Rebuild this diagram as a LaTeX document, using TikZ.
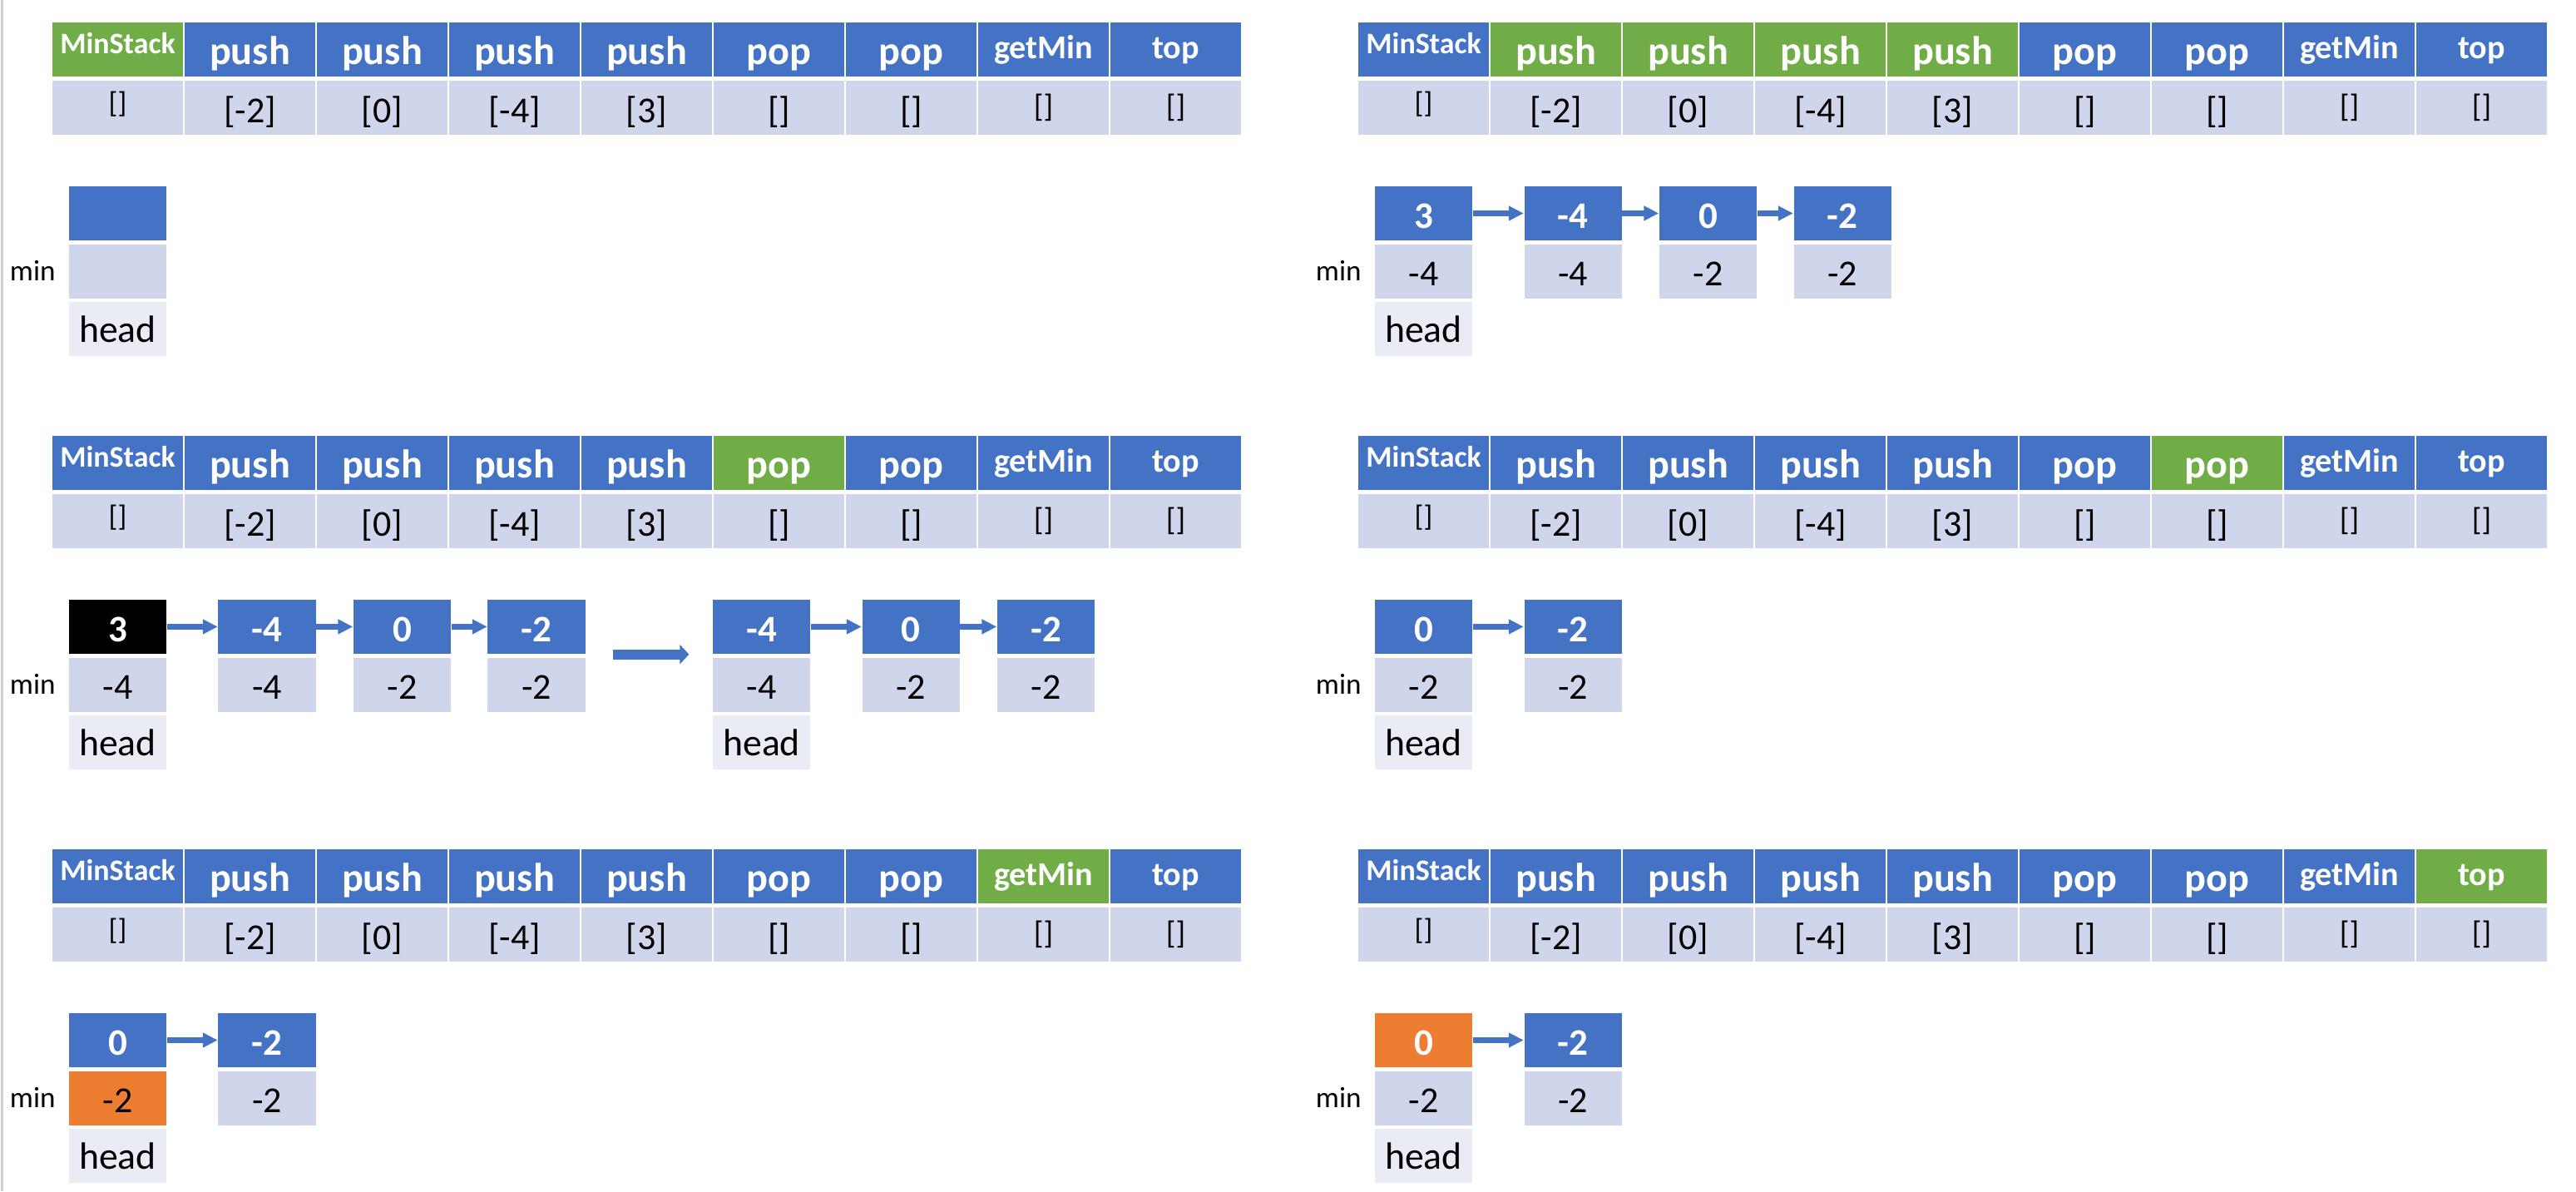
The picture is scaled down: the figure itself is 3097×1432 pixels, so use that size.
\documentclass[tikz,border=0pt]{standalone}
\usepackage{fontspec}
\setmainfont{Carlito}
\usetikzlibrary{positioning,arrows.meta}
\definecolor{opblue}{RGB}{68,114,196}
\definecolor{opgreen}{RGB}{112,173,71}
\definecolor{oporange}{RGB}{237,125,49}
\definecolor{rowblue}{RGB}{207,213,234}
\definecolor{headgray}{RGB}{233,235,245}
\definecolor{edgegray}{RGB}{208,208,208}

\begin{document}
\begin{tikzpicture}[x=0.01cm, y=-0.01cm]
    \tikzstyle{cell} = [rectangle, inner sep=0pt, minimum width=1.57cm, minimum height=0.65cm]
    \tikzstyle{op} = [cell, text=white, font=\fontsize{13.7}{16}\selectfont\bfseries, text height=0.50cm, text depth=0.15cm]
    \tikzstyle{opsm} = [op, font=\fontsize{11.4}{14}\selectfont\bfseries, text height=0.43cm, text depth=0.22cm]
    \tikzstyle{optag} = [op, font=\fontsize{10.2}{12}\selectfont\bfseries, text height=0.37cm, text depth=0.28cm]
    \tikzstyle{arg} = [cell, fill=rowblue, font=\fontsize{12.5}{15}\selectfont, text height=0.51cm, text depth=0.14cm]
    \tikzstyle{argmd} = [arg, font=\fontsize{10.8}{13}\selectfont, text height=0.44cm, text depth=0.21cm]
    \tikzstyle{argsm} = [arg, font=\fontsize{10}{12}\selectfont, text height=0.39cm, text depth=0.26cm]
    \tikzstyle{val} = [cell, minimum width=1.17cm, fill=opblue, text=white, font=\fontsize{12.8}{15}\selectfont\bfseries, text height=0.51cm, text depth=0.14cm]
    \tikzstyle{mn} = [cell, minimum width=1.17cm, fill=rowblue, font=\fontsize{12.5}{15}\selectfont, text height=0.49cm, text depth=0.16cm]
    \tikzstyle{hd} = [mn, fill=headgray, font=\fontsize{13}{15}\selectfont]
    \tikzstyle{lbl} = [inner sep=0pt, minimum height=0.65cm, font=\fontsize{10}{12}\selectfont, text height=0.43cm, text depth=0.22cm]
    \tikzstyle{link} = [draw=opblue, line width=0.07cm, -{Triangle[length=0.18cm, width=0.17cm]}]
    \tikzstyle{jump} = [draw=opblue, line width=0.12cm, -{Triangle[length=0.11cm, width=0.23cm]}, shorten <=0.33cm, shorten >=0.28cm]

    \useasboundingbox (0,0) rectangle (3097,1432);
    \draw [edgegray, line width=0.02cm] (2.5,0) -- (2.5,1432);

    % Operation tables (green = current step)
    \foreach \pn/\tx/\ty/\hfrom/\hto in {a/62/27/1/1, b/1632/27/2/5, c/62/524/6/6, d/1632/524/7/7, e/62/1021/8/8, f/1632/1021/9/9} {
        \foreach \i/\op/\arg/\os/\as in {1/MinStack/{[]}/optag/argsm, 2/push/{[-2]}/op/arg, 3/push/{[0]}/op/arg, 4/push/{[-4]}/op/arg, 5/push/{[3]}/op/arg, 6/pop/{[]}/op/arg, 7/pop/{[]}/op/arg, 8/getMin/{[]}/opsm/argmd, 9/top/{[]}/opsm/argmd} {
            \ifnum\i<\hfrom\relax \def\cc{opblue}\else\ifnum\i>\hto\relax \def\cc{opblue}\else \def\cc{opgreen}\fi\fi
            \node [\os, fill=\cc] (\pn op\i) at ({\tx+\i*159-79.5}, {\ty+32.5}) {\op};
            \node [\as, below=0.035cm of \pn op\i] (\pn arg\i) {\arg};
        }
    }

    % MinStack(): empty head
    \node [val, below=0.605cm of aarg1] (a1) {};
    \node [mn, below=0.04cm of a1] (a1m) {};
    \node [hd, below=0.02cm of a1m] (ahead) {head};
    \node [lbl, left=0.15cm of a1m] (amin) {min};

    % push -2, 0, -4, 3
    \node [val, below=0.605cm of barg1] (b1) {3};
    \node [val, right=0.61cm of b1] (b2) {-4};
    \node [val, right=0.44cm of b2] (b3) {0};
    \node [val, right=0.43cm of b3] (b4) {-2};
    \foreach \k/\v in {1/-4, 2/-4, 3/-2, 4/-2}
        \node [mn, below=0.04cm of b\k] (b\k m) {\v};
    \node [hd, below=0.02cm of b1m] (bhead) {head};
    \node [lbl, left=0.15cm of b1m] (bmin) {min};
    \foreach \k/\l in {1/2, 2/3, 3/4}
        \draw [link] (b\k) -- (b\l);

    % pop: 3 leaves the list
    \node [val, fill=black, below=0.605cm of carg1] (c1) {3};
    \node [val, right=0.61cm of c1] (c2) {-4};
    \node [val, right=0.44cm of c2] (c3) {0};
    \node [val, right=0.43cm of c3] (c4) {-2};
    \node [val, right=1.52cm of c4] (c5) {-4};
    \node [val, right=0.61cm of c5] (c6) {0};
    \node [val, right=0.44cm of c6] (c7) {-2};
    \foreach \k/\v in {1/-4, 2/-4, 3/-2, 4/-2, 5/-4, 6/-2, 7/-2}
        \node [mn, below=0.04cm of c\k] (c\k m) {\v};
    \node [hd, below=0.02cm of c1m] (chead) {head};
    \node [hd, below=0.02cm of c5m] (chead2) {head};
    \node [lbl, left=0.15cm of c1m] (cmin) {min};
    \foreach \k/\l in {1/2, 2/3, 3/4, 5/6, 6/7}
        \draw [link] (c\k) -- (c\l);
    \draw [jump] (c4.south east) -- (c5.south west);

    % pop: -4 leaves the list
    \node [val, below=0.605cm of darg1] (d1) {0};
    \node [val, right=0.61cm of d1] (d2) {-2};
    \node [mn, below=0.04cm of d1] (d1m) {-2};
    \node [mn, below=0.04cm of d2] (d2m) {-2};
    \node [hd, below=0.02cm of d1m] (dhead) {head};
    \node [lbl, left=0.15cm of d1m] (dmin) {min};
    \draw [link] (d1) -- (d2);

    % getMin reads head min
    \node [val, below=0.605cm of earg1] (e1) {0};
    \node [val, right=0.61cm of e1] (e2) {-2};
    \node [mn, fill=oporange, below=0.04cm of e1] (e1m) {-2};
    \node [mn, below=0.04cm of e2] (e2m) {-2};
    \node [hd, below=0.02cm of e1m] (ehead) {head};
    \node [lbl, left=0.15cm of e1m] (emin) {min};
    \draw [link] (e1) -- (e2);

    % top reads head value
    \node [val, fill=oporange, below=0.605cm of farg1] (f1) {0};
    \node [val, right=0.61cm of f1] (f2) {-2};
    \node [mn, below=0.04cm of f1] (f1m) {-2};
    \node [mn, below=0.04cm of f2] (f2m) {-2};
    \node [hd, below=0.02cm of f1m] (fhead) {head};
    \node [lbl, left=0.15cm of f1m] (fmin) {min};
    \draw [link] (f1) -- (f2);
\end{tikzpicture}
\end{document}
